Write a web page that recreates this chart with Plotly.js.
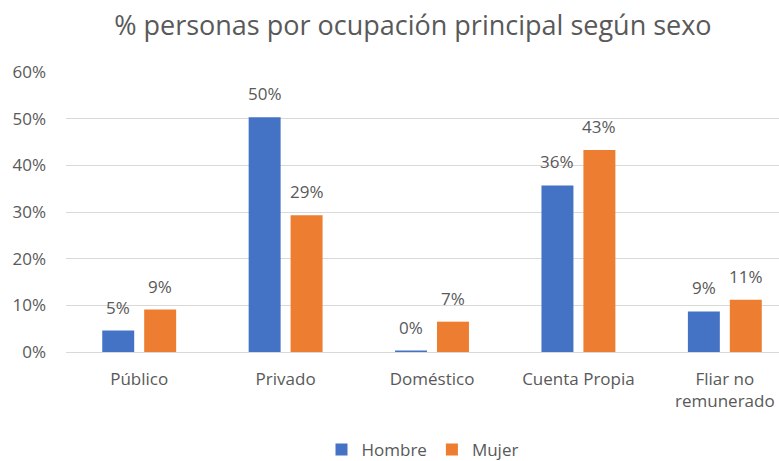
<!DOCTYPE html>
<html>
<head>
<meta charset="utf-8">
<script src="https://cdn.plot.ly/plotly-3.0.1.min.js"></script>
<style>html,body{margin:0;padding:0;background:#fff;}#chart{width:779px;height:461px;}</style>
</head>
<body>
<div id="chart"></div>
<script>
const categories = ["Público", "Privado", "Doméstico", "Cuenta Propia", "Fliar no<br>remunerado"];
const hombre = [0.046, 0.503, 0.003, 0.357, 0.087];
const mujer = [0.091, 0.293, 0.065, 0.433, 0.112];
const seriesNames = ["Hombre", "Mujer"];
const yTicks = [0, 0.1, 0.2, 0.3, 0.4, 0.5, 0.6];

const font = "Open Sans, Noto Sans, sans-serif";
const grey = "#595959";
const colors = ["#4472C4", "#ED7D31"];

const traces = [
  {type: "bar", name: seriesNames[0], x: categories, y: hombre, marker: {color: colors[0]}, cliponaxis: false},
  {type: "bar", name: seriesNames[1], x: categories, y: mujer, marker: {color: colors[1]}, cliponaxis: false}
];

const annotations = [];
[hombre, mujer].forEach((vals, s) => {
  vals.forEach((v, i) => {
    annotations.push({
      x: categories[i], y: v, xref: "x", yref: "y",
      text: Math.round(v * 100) + "%",
      showarrow: false, yanchor: "bottom", xanchor: "center",
      xshift: s === 0 ? -21 : 21, yshift: 10,
      font: {size: 17, color: grey, family: font}
    });
  });
});

const layout = {
  width: 779, height: 461,
  margin: {l: 66, r: 0, t: 72, b: 109, autoexpand: false},
  paper_bgcolor: "#fff", plot_bgcolor: "#fff",
  font: {family: font, color: grey, size: 17},
  title: {text: "% personas por ocupación principal según sexo", x: 0.53, xanchor: "center", y: 0.945, yanchor: "middle",
          font: {size: 27, color: grey, family: font}},
  barmode: "group", bargap: 0.427, bargroupgap: 0.238,
  xaxis: {type: "category", range: [-0.5, 4.37], showgrid: false, zeroline: false, showline: false, ticks: "",
          tickfont: {size: 17, color: grey}, ticklabelstandoff: 15, automargin: false},
  yaxis: {range: [0, 0.6], tickvals: yTicks, tickformat: ".0%", showgrid: true, gridcolor: "#d9d9d9", gridwidth: 1,
          zeroline: true, zerolinecolor: "#d9d9d9", showline: false, ticks: "", tickfont: {size: 17, color: grey},
          ticklabelstandoff: 19, automargin: false},
  annotations: annotations,
  showlegend: true,
  legend: {orientation: "h", x: 0.5, xanchor: "center", y: -0.35, yanchor: "middle", font: {size: 17, color: grey},
           itemwidth: 30, traceorder: "normal"}
};

Plotly.newPlot("chart", traces, layout, {displayModeBar: false, staticPlot: true});
</script>
</body>
</html>
